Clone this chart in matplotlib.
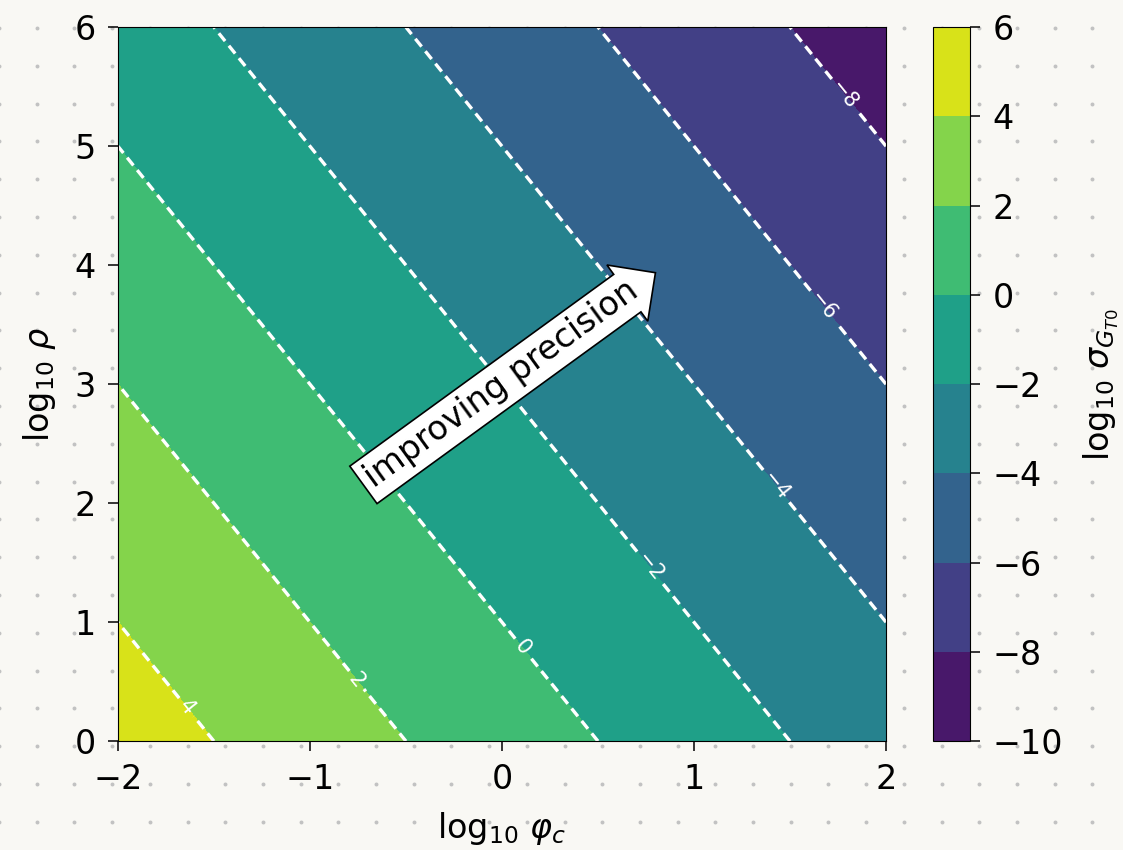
import matplotlib
matplotlib.use("Agg")
import matplotlib.pyplot as plt
import numpy as np

# Grid (log10 sigma at integer grid points)
log_phi = [-2, -1, 0, 1, 2]
log_rho = [0, 1, 2, 3, 4, 5, 6]
log_sigma = [
    [5, 3, 1, -1, -3],
    [4, 2, 0, -2, -4],
    [3, 1, -1, -3, -5],
    [2, 0, -2, -4, -6],
    [1, -1, -3, -5, -7],
    [0, -2, -4, -6, -8],
    [-1, -3, -5, -7, -9],
]
levels = [-10, -8, -6, -4, -2, 0, 2, 4, 6]
cbar_ticks = [-10, -8, -6, -4, -2, 0, 2, 4, 6]

# where the contour labels sit
label_spots = [(-1.64, 0.29), (-0.76, 0.51), (0.11, 0.79), (0.77, 1.46),
               (1.43, 2.15), (1.68, 3.66), (1.79, 5.44)]

BG = "#f9f8f4"
FS = 24

fig = plt.figure(figsize=(11.23, 8.5), dpi=100, facecolor=BG)

# dotted paper background
bg = fig.add_axes([0, 0, 1, 1], zorder=-1)
bg.set_xlim(0, 1123)
bg.set_ylim(850, 0)
bg.axis("off")
gx, gy = np.meshgrid(np.arange(-1, 1130, 37.7), np.arange(28, 860, 37.8))
bg.scatter(gx.ravel(), gy.ravel(), s=8, color="#c2c2c2", linewidths=0)

ax = fig.add_axes([0.105, 0.128, 0.684, 0.840])
cax = fig.add_axes([0.831, 0.128, 0.033, 0.840])

X, Y = np.meshgrid(log_phi, log_rho)
Z = np.array(log_sigma, dtype=float)

cf = ax.contourf(X, Y, Z, levels=levels, cmap="viridis")
cs = ax.contour(X, Y, Z, levels=levels, colors="white",
                linestyles=[(0, (3.0, 1.8))], linewidths=2.4)
ax.clabel(cs, manual=label_spots, inline=True, fontsize=15, colors="white")

ax.set_xlim(-2, 2)
ax.set_ylim(0, 6)
ax.set_xticks([-2, -1, 0, 1, 2])
ax.set_yticks([0, 1, 2, 3, 4, 5, 6])
ax.tick_params(labelsize=FS, length=7, width=1.1, pad=9)
ax.set_xlabel(r"$\log_{10}\,\varphi_c$", fontsize=FS, labelpad=10)
ax.set_ylabel(r"$\log_{10}\,\rho$", fontsize=FS, labelpad=12)

ax.text(0.0, 3.0, "improving precision", fontsize=FS, rotation=36,
        ha="center", va="center", rotation_mode="anchor",
        bbox=dict(boxstyle="rarrow,pad=0.2", fc="white", ec="black", lw=1.2))

cb = fig.colorbar(cf, cax=cax, ticks=cbar_ticks)
cb.ax.tick_params(labelsize=FS, length=7, width=1.1, pad=9)
cb.set_label(r"$\log_{10}\,\sigma_{G_{T0}}$", fontsize=FS, labelpad=13)

fig.savefig("out.png", dpi=100, facecolor=BG)
